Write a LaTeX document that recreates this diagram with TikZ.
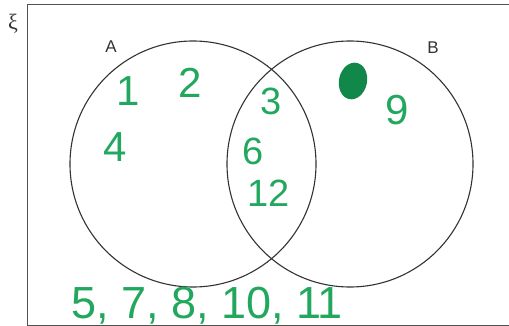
\documentclass[tikz,border=0pt]{standalone}
\usepackage{fontspec}
\setmainfont{Liberation Sans}
\newfontfamily\greekserif{Liberation Serif}
\usetikzlibrary{shapes.geometric}
\definecolor{pen}{HTML}{22A85E}
\definecolor{blob}{HTML}{12874A}
\definecolor{ink}{HTML}{333333}
\tikzset{
  setcircle/.style={circle, draw=ink, line width=1.1pt, minimum size=246pt, inner sep=0pt},
  setlabel/.style={text=ink, font=\fontsize{17}{17}\selectfont, inner sep=0pt},
  hand/.style={text=pen, font=\fontsize{42}{42}\selectfont, inner sep=0pt},
  handsmall/.style={text=pen, font=\fontsize{38}{38}\selectfont, inner sep=0pt},
}
\begin{document}
\begin{tikzpicture}[x=1pt,y=-1pt]
\useasboundingbox (0,0) rectangle (509,326);
\clip (0,0) rectangle (509,326);
\fill[white] (0,0) rectangle (509,326);
% universal set
\draw[draw=ink!85, line width=0.9pt] (27,4) rectangle (530,325);
\node[text=ink, font=\greekserif\fontsize{22}{22}\selectfont, inner sep=0pt] (xi) at (13,24) {ξ};
% sets
\node[setcircle] (A) at (193,164) {};
\node[setcircle] (B) at (350,164) {};
\node[setlabel] (la) at (111,47) {A};
\node[setlabel] (lb) at (433,48) {B};
% elements
\node[hand] (n1) at (128,91) {1};
\node[hand] (n2) at (190,83) {2};
\node[hand] (n4) at (115,147) {4};
\node[handsmall] (n3) at (271,101) {3};
\node[handsmall] (n6) at (253,151) {6};
\node[handsmall] (n12) at (269,193) {12};
\node[hand] (n9) at (397,110) {9};
\node[ellipse, fill=blob, minimum width=28pt, minimum height=37pt, rotate=-12, inner sep=0pt] (blotch) at (353,81) {};
\node[hand, anchor=base, font=\fontsize{45}{45}\selectfont] (rest) at (207,318) {5, 7, 8, 10, 11};
\end{tikzpicture}
\end{document}
